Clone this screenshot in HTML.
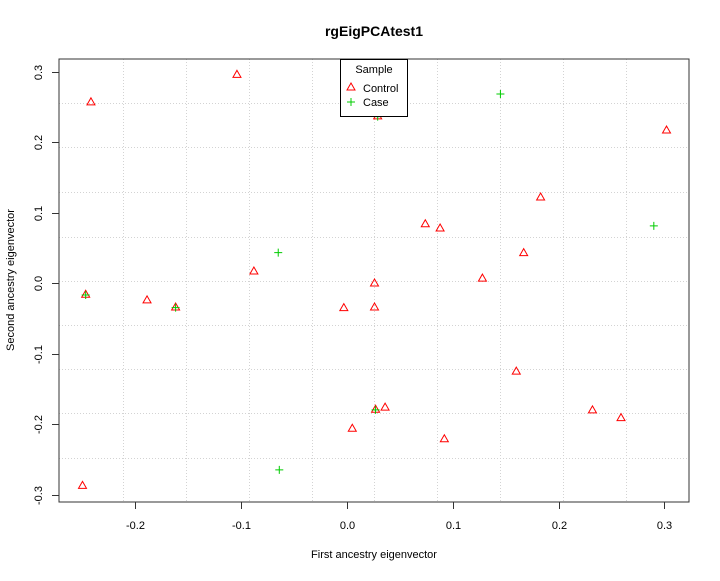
<!DOCTYPE html>
<html><head><meta charset="utf-8"><style>
body{margin:0;background:#fff;}
svg text{font-family:"Liberation Sans",sans-serif;fill:#000;}
</style></head><body>
<svg id="chart" width="720" height="576">
<rect width="720" height="576" fill="#fff"/>
<text x="374" y="36" font-size="14" font-weight="bold" text-anchor="middle">rgEigPCAtest1</text>
<g id="grid"></g>
<g id="axes"></g>
<g id="points"></g>
<rect x="59" y="59" width="630" height="443" fill="none" stroke="#333" stroke-width="1"/>
<text x="374" y="558" font-size="11" text-anchor="middle">First ancestry eigenvector</text>
<text transform="translate(14,280) rotate(-90)" font-size="11" text-anchor="middle">Second ancestry eigenvector</text>
<g>
<rect x="340.5" y="59.5" width="67" height="57" fill="#fff" stroke="#000"/>
<text x="374" y="73" font-size="11" text-anchor="middle">Sample</text>
<polygon points="351,83 355,90 347,90" fill="none" stroke="#f00"/>
<text x="363" y="92" font-size="11">Control</text>
<path d="M347,102H355M351,98V106" stroke="#0c0"/>
<text x="363" y="106" font-size="11">Case</text>
</g>
</svg>
<script>
const xTicks=[-0.2,-0.1,0,0.1,0.2,0.3];
const xTickLabels=["-0.2","-0.1","0.0","0.1","0.2","0.3"];
const yTicks=[-0.3,-0.2,-0.1,0,0.1,0.2,0.3];
const yTickLabels=["-0.3","-0.2","-0.1","0.0","0.1","0.2","0.3"];
const controlX=[-0.242,-0.104,0.029,0.302,0.183,0.074,0.088,0.167,0.128,0.026,-0.088,-0.247,-0.189,-0.162,-0.003,0.026,0.160,0.232,0.259,0.036,0.027,0.005,0.092,-0.250];
const controlY=[0.257,0.296,0.237,0.217,0.122,0.084,0.078,0.043,0.007,0.000,0.017,-0.016,-0.024,-0.034,-0.035,-0.034,-0.125,-0.180,-0.191,-0.176,-0.179,-0.206,-0.221,-0.287];
const caseX=[0.145,0.290,-0.065,-0.064,-0.247,-0.162,0.027,0.029];
const caseY=[0.268,0.081,0.043,-0.265,-0.017,-0.035,-0.180,0.236];
function sx(v){return 347+v*1058;}
function sy(v){return 283-v*705;}
const NS="http://www.w3.org/2000/svg";
function mk(t,a,p){const e=document.createElementNS(NS,t);for(const k in a)e.setAttribute(k,a[k]);p.appendChild(e);return e;}
const grid=document.getElementById('grid');
[123,186,249,312,374,437,500,563,626].forEach(x=>{
const l=mk('line',{x1:x+0.5,x2:x+0.5,y1:59,y2:502,stroke:'#d3d3d3','stroke-dasharray':'1,2'},grid);


});
[103,147,192,237,281,325,369,413,458].forEach(y=>{
const l=mk('line',{x1:59,x2:689,y1:y+0.5,y2:y+0.5,stroke:'#d3d3d3','stroke-dasharray':'1,2'},grid);


});
const axes=document.getElementById('axes');
xTicks.forEach((v,i)=>{
const x=Math.round(sx(v))+0.5;
const l=mk('line',{x1:x,x2:x,y1:502,y2:509,stroke:'#333'},axes);


const t=mk('text',{x:x,y:529,'font-size':11,'text-anchor':'middle'},axes);
t.textContent=xTickLabels[i];


});
yTicks.forEach((v,i)=>{
const y=Math.round(sy(v))+0.5;
const l=mk('line',{x1:52,x2:59,y1:y,y2:y,stroke:'#333'},axes);


const t=mk('text',{x:0,y:0,'font-size':11,'text-anchor':'middle',transform:`translate(42,${y}) rotate(-90)`},axes);
t.textContent=yTickLabels[i];


});
const pts=document.getElementById('points');
controlX.forEach((v,i)=>{
const x=sx(v),y=sy(controlY[i]);
const p=mk('polygon',{points:`${x},${y-4} ${x+4},${y+3} ${x-4},${y+3}`,fill:'none',stroke:'#f00'},pts);


});
caseX.forEach((v,i)=>{
const x=sx(v),y=sy(caseY[i]);
const p=mk('path',{d:`M${x-4},${y}H${x+4}M${x},${y-4}V${y+4}`,stroke:'#0c0'},pts);


});
</script>
</body></html>
